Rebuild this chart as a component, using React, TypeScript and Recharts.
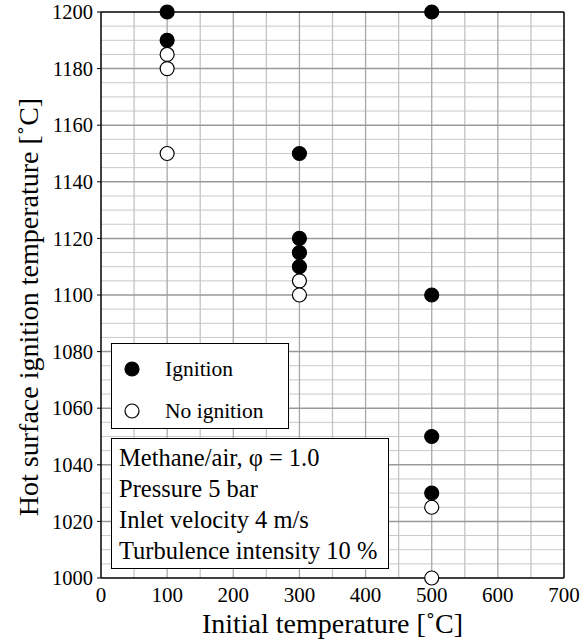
import { CartesianGrid, ReferenceLine, Scatter, ScatterChart, XAxis, YAxis } from "recharts";

const xTicks = [0, 100, 200, 300, 400, 500, 600, 700];
const yTicks = [1000, 1020, 1040, 1060, 1080, 1100, 1120, 1140, 1160, 1180, 1200];
const xGrid = [50, 100, 150, 200, 250, 300, 350, 400, 450, 500, 550, 600, 650];
const yMinorGrid = [
  1005, 1010, 1015, 1025, 1030, 1035, 1045, 1050, 1055, 1065, 1070, 1075, 1085, 1090, 1095,
  1105, 1110, 1115, 1125, 1130, 1135, 1145, 1150, 1155, 1165, 1170, 1175, 1185, 1190, 1195,
];

const ignitionTemp = [100, 100, 300, 300, 300, 300, 500, 500, 500, 500];
const ignitionSurface = [1200, 1190, 1150, 1120, 1115, 1110, 1200, 1100, 1050, 1030];
const noIgnitionTemp = [100, 100, 100, 300, 300, 500, 500];
const noIgnitionSurface = [1185, 1180, 1150, 1105, 1100, 1025, 1000];

const legendLabels = ["Ignition", "No ignition"];
const conditionLines = [
  "Methane/air, φ = 1.0",
  "Pressure 5 bar",
  "Inlet velocity 4 m/s",
  "Turbulence intensity 10 %",
];

const ignition = ignitionTemp.map((x, i) => ({ x, y: ignitionSurface[i] }));
const noIgnition = noIgnitionTemp.map((x, i) => ({ x, y: noIgnitionSurface[i] }));

const FONT = "Liberation Serif";

function dot(filled: boolean) {
  return (props: any) => (
    <circle
      cx={props.cx}
      cy={props.cy}
      r={7}
      fill={filled ? "#000" : "#fff"}
      stroke="#000"
      strokeWidth={1.2}
    />
  );
}

const renderXTick = (props: any) => (
  <text
    key={`xt${props.payload.value}`}
    x={props.x}
    y={props.y}
    dy="0.71em"
    textAnchor="middle"
    fill="#000"
    fontSize={21}
    fontFamily={FONT}
  >
    {props.payload.value}
  </text>
);

const renderYTick = (props: any) => (
  <g key={`yt${props.payload.value}`}>
    <line x1={props.x + 4} x2={props.x + 8} y1={props.y} y2={props.y} stroke="#000" />
    <text x={props.x} y={props.y} dy="0.35em" textAnchor="end" fill="#000" fontSize={20.5} fontFamily={FONT}>
      {props.payload.value}
    </text>
  </g>
);

function YTitle(props: any) {
  const vb = props.viewBox;
  const cx = 28;
  const cy = vb.y + vb.height / 2 + 12;
  return (
    <text
      x={cx}
      y={cy}
      dy="0.35em"
      transform={`rotate(-90, ${cx}, ${cy})`}
      textAnchor="middle"
      fill="#000"
      fontSize={28}
      fontFamily={FONT}
    >
      Hot surface ignition temperature [˚C]
    </text>
  );
}

export default function App() {
  return (
    <div style={{ position: "absolute", left: 0, top: 0, width: 580, height: 642, background: "#fff", fontFamily: FONT }}>
      <ScatterChart
        width={580}
        height={642}
        margin={{ top: 12, right: 16, left: 0, bottom: 0 }}
        style={{ fontFamily: FONT }}
      >
        <CartesianGrid stroke="none" />
        {yMinorGrid.map((v) => (
          <ReferenceLine key={`ym${v}`} y={v} stroke="#c9c9c9" strokeWidth={1} />
        ))}
        {xGrid.map((v) => (
          <ReferenceLine key={`x${v}`} x={v} stroke={v % 100 === 0 ? "#a8a8a8" : "#c4c4c4"} strokeWidth={1.3} />
        ))}
        {yTicks.slice(1, -1).map((v) => (
          <ReferenceLine key={`y${v}`} y={v} stroke="#999" strokeWidth={1.5} />
        ))}
        <ReferenceLine y={1200} stroke="#000" strokeWidth={1.5} />
        <ReferenceLine x={700} stroke="#000" strokeWidth={1.5} />
        <XAxis
          type="number"
          dataKey="x"
          domain={[0, 700]}
          ticks={xTicks}
          height={64}
          tickLine={false}
          tickSize={0}
          tickMargin={9}
          axisLine={{ stroke: "#000", strokeWidth: 1.5 }}
          tick={renderXTick}
          label={{
            value: "Initial temperature [˚C]",
            position: "insideBottom",
            offset: 9,
            style: { fill: "#000", fontSize: 28, fontFamily: FONT },
          }}
        />
        <YAxis
          type="number"
          dataKey="y"
          domain={[1000, 1200]}
          ticks={yTicks}
          width={101}
          tickSize={4}
          tickMargin={4}
          tickLine={false}
          axisLine={{ stroke: "#000", strokeWidth: 1.5 }}
          tick={renderYTick}
          label={{ content: <YTitle /> }}
        />
        <Scatter data={noIgnition} shape={dot(false)} isAnimationActive={false} />
        <Scatter data={ignition} shape={dot(true)} isAnimationActive={false} />
      </ScatterChart>

      <div
        style={{
          position: "absolute",
          left: 111,
          top: 343,
          width: 178,
          height: 86,
          border: "1.5px solid #000",
          boxSizing: "border-box",
          background: "#fff",
          fontSize: 21.5,
        }}
      >
        {legendLabels.map((label, i) => (
          <div
            key={label}
            style={{ position: "absolute", left: 11, top: 16 + i * 41.7, height: 18, display: "flex", alignItems: "center" }}
          >
            <svg width={18} height={18} style={{ flex: "none" }}>
              <circle cx={9} cy={9} r={7} fill={i === 0 ? "#000" : "#fff"} stroke="#000" strokeWidth={1.2} />
            </svg>
            <span style={{ marginLeft: 24, lineHeight: "18px", whiteSpace: "nowrap" }}>{label}</span>
          </div>
        ))}
      </div>

      <div
        style={{
          position: "absolute",
          left: 111,
          top: 438,
          width: 278,
          height: 131,
          border: "1.5px solid #000",
          background: "#fff",
          fontSize: 24.5,
          boxSizing: "border-box",
          padding: "3px 0 0 7px",
          whiteSpace: "nowrap",
        }}
      >
        {conditionLines.map((line) => (
          <div key={line} style={{ lineHeight: "31px" }}>{line}</div>
        ))}
      </div>
    </div>
  );
}
